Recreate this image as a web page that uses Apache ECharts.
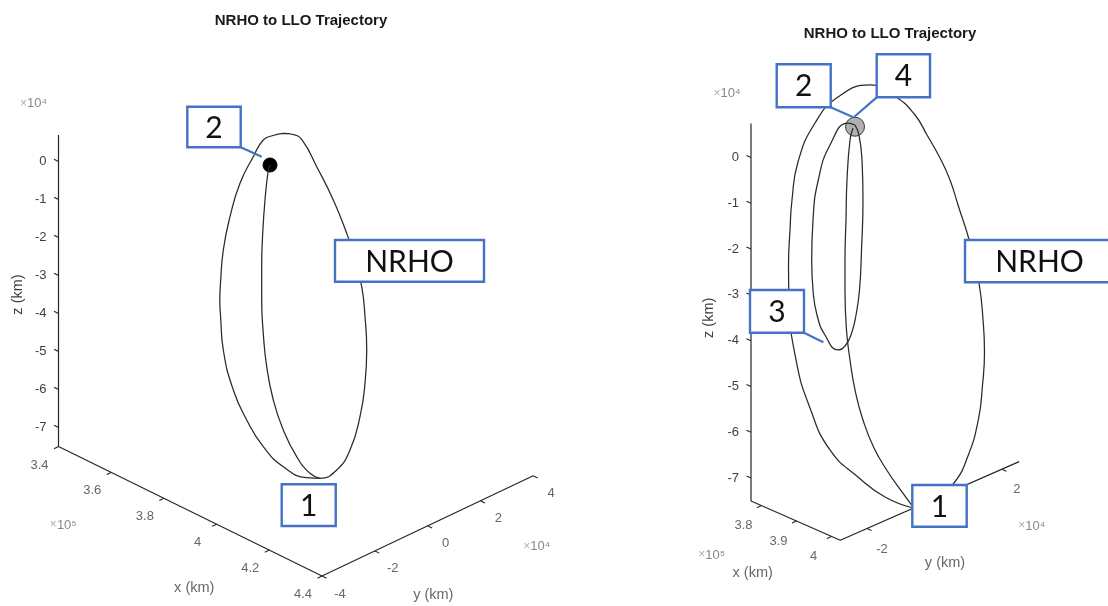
<!DOCTYPE html>
<html><head><meta charset="utf-8">
<script src="https://cdn.jsdelivr.net/npm/echarts@6/dist/echarts.min.js"></script>
<style>html,body{margin:0;padding:0;background:#fff}#c{width:1108px;height:606px}</style>
</head><body><div id="c"></div>
<script>
// ================= DATA (lengths in units of 1e4 km) =================
const chartTitle = 'NRHO to LLO Trajectory';
const zTicks = [-7, -6, -5, -4, -3, -2, -1, 0];

// left view: axis limits and ticks
const leftXRange = [34, 44];
const leftYRange = [-4, 4];
const leftZRange = [-7.5, 0.7];
const leftXTicks = [34, 36, 38, 40, 42, 44];
const leftXTickLabels = ['3.4', '3.6', '3.8', '4', '4.2', '4.4'];
const leftYTicks = [-4, -2, 0, 2, 4];
const leftYTickLabels = ['-4', '-2', '0', '2', '4'];

// right view
const rightXRange = [37.7, 40.25];
const rightYRange = [-2.79, 2.51];
const rightZRange = [-7.5, 0.74];
const rightXTicks = [38, 39, 40];
const rightXTickLabels = ['3.8', '3.9', '4'];
const rightYTicks = [-2, 0, 2];
const rightYTickLabels = ['-2', '0', '2'];

// trajectories, projected on the view plane [horizontal, vertical] (1e4 km)
const leftNrho = [[5.916,0.742],[5.645,0.684],[5.389,0.566],[5.126,0.126],[4.776,-0.574],[4.513,-1.453],[4.337,-2.329],[4.263,-3.205],[4.245,-3.645],[4.266,-4.084],[4.337,-4.961],[4.6,-6.013],[4.953,-6.803],[5.389,-7.505],[5.916,-8.032],[6.532,-8.321],[6.882,-8.337],[7.321,-8.118],[7.671,-7.592],[7.934,-6.716],[8.066,-5.837],[8.111,-4.961],[8.066,-4.084],[7.979,-3.295],[7.758,-2.416],[7.584,-1.889],[7.232,-1.013],[6.795,-0.137],[6.408,0.566],[6.171,0.711],[5.916,0.742]];
const leftTransfer = [[5.566,-0.092],[5.521,-0.224],[5.434,-1.013],[5.374,-1.889],[5.347,-2.768],[5.347,-3.645],[5.389,-4.521],[5.479,-5.4],[5.653,-6.276],[5.916,-7.066],[6.268,-7.768],[6.618,-8.205],[6.882,-8.337]];
const leftPoint1 = [6.882, -8.337];
const leftPoint2 = [5.566, -0.092];
const leftNrhoTag = [7.758, -2.416];

const rightNrho = [[3.537,-7.653],[2.926,-7.413],[2.336,-6.976],[1.725,-6.386],[1.288,-5.469],[0.983,-4.421],[0.83,-3.111],[0.819,-2.347],[0.852,-1.583],[0.895,-0.928],[1.026,-0.098],[1.397,0.753],[1.9,1.321],[2.598,1.583],[3.166,1.321],[3.581,0.928],[3.843,0.491],[4.127,-0.011],[4.345,-0.491],[4.52,-1.037],[4.782,-1.867],[4.978,-2.74],[5.066,-3.548],[5.098,-4.247],[5.055,-4.967],[4.963,-5.731],[4.731,-6.533],[4.432,-7.107],[4.017,-7.478],[3.537,-7.653]];
const rightTransfer = [[2.227,0.644],[2.162,0.382],[2.096,-0.491],[2.074,-1.365],[2.052,-2.238],[2.052,-2.893],[2.085,-3.766],[2.162,-4.421],[2.271,-5.076],[2.445,-5.731],[2.686,-6.343],[2.991,-6.867],[3.297,-7.303],[3.537,-7.631]];
const rightLoop = [[2.271,0.71],[2.118,0.753],[1.725,0.273],[1.469,-0.491],[1.354,-1.365],[1.325,-2.238],[1.354,-2.893],[1.441,-3.439],[1.616,-3.876],[1.906,-4.203],[2.052,-4.116],[2.183,-3.876],[2.293,-3.439],[2.369,-2.893],[2.413,-2.02],[2.445,-0.928],[2.424,-0.055],[2.358,0.491],[2.271,0.71]];
const rightPoint1 = [3.537, -7.653];
const rightPoint24 = [2.271, 0.672];
const rightPoint3 = [1.906, -4.203];
const rightNrhoTag = [4.782, -1.867];

// ================= LAYOUT / STYLE =================
const FONT = '"Liberation Sans", Helvetica, Arial, sans-serif';
const BOXFONT = 'Lato, "Open Sans", sans-serif';
const AXC = '#262626', TXC = '#404040', CURVE = '#2a2a2a', BLUE = '#4472C4';

const panels = [
  { box:{x:leftXRange, y:leftYRange, z:leftZRange},
    view:{ex:[26.35,12.95], ey:[26.4,-12.54], ez:38},
    grid:{left:58.5, top:123.5, width:494, height:342}, hMax:13,
    xTicks:leftXTicks, xLabels:leftXTickLabels, yTicks:leftYTicks, yLabels:leftYTickLabels,
    xLabOff:[-19,18.5], yLabOff:[18,18],
    zExpOff:[-25,-31.6], xExpOff:[4.8,78.5], yExpOff:[3.5,71], xNameOff:[4,77], yNameOff:[5.7,69.2],
    nameGap:33,
    curves:[leftNrho, leftTransfer],
    dots:[{at:leftPoint2, size:14, color:'#000', border:'#000'}],
    notes:[
      {text:'2', at:leftPoint2, off:[-56,-38], w:53.4, h:40.6, lead:[[-29.3,-17.7],[-8.3,-8.3]]},
      {text:'NRHO', at:leftNrhoTag, off:[56.2,7.55], w:149, h:41.7},
      {text:'1', at:leftPoint1, off:[-11.3,26.85], w:54, h:41.7}
    ]},
  { box:{x:rightXRange, y:rightYRange, z:rightZRange},
    view:{ex:[35,15.4], ey:[33.75,-14.83], ez:45.8},
    grid:{left:751, top:111.7, width:320.6, height:412.2}, hMax:7,
    xTicks:rightXTicks, xLabels:rightXTickLabels, yTicks:rightYTicks, yLabels:rightYTickLabels,
    xLabOff:[-18,20], yLabOff:[15,20.5],
    zExpOff:[-24,-30.4], xExpOff:[-39.3,54], yExpOff:[12.6,64.3], xNameOff:[-42.9,52.7], yNameOff:[15.3,62.3],
    nameGap:35,
    curves:[rightNrho, rightTransfer, rightLoop],
    dots:[{at:rightPoint24, size:19, color:'#b0b0b0', border:'#3a3a3a'}],
    notes:[
      {text:'2', at:rightPoint24, off:[-51.3,-40.9], w:54, h:43, lead:[[-24.3,-19.4],[-1.7,-9.4]]},
      {text:'4', at:rightPoint24, off:[48.35,-50.9], w:53.3, h:43, lead:[[21.7,-29.4],[-0.7,-10]]},
      {text:'3', at:rightPoint3, off:[-61.3,-38.65], w:54, h:42.7, lead:[[-34.3,-17.3],[-15,-7.7]]},
      {text:'NRHO', at:rightNrhoTag, off:[69.5,18.15], w:149, h:42.3},
      {text:'1', at:rightPoint1, off:[26.5,-2.15], w:54.4, h:41.7}
    ]}
];

function proj(p, x, y, z) {
  const b = p.box, v = p.view;
  const dx = x - b.x[0], dy = y - b.y[0];
  return [(v.ex[0]*dx + v.ey[0]*dy)/v.ez, z - (v.ex[1]*dx + v.ey[1]*dy)/v.ez];
}
function shiftPx(p, pt, vec) { return [pt[0] + vec[0]/p.view.ez, pt[1] - vec[1]/p.view.ez]; }
function unit(vec, len) { const n = Math.hypot(vec[0], vec[1]); return [vec[0]/n*len, vec[1]/n*len]; }

const grids = [], xAxes = [], yAxes = [], series = [];
const TICK = 5;

panels.forEach((p, i) => {
  const b = p.box;
  grids.push(Object.assign({containLabel:false}, p.grid));
  xAxes.push({gridIndex:i, type:'value', min:0, max:p.hMax, show:false});
  yAxes.push({gridIndex:i, type:'value', min:-8, max:1, interval:1,
    axisLine:{show:false}, axisTick:{show:false}, splitLine:{show:false},
    axisLabel:{margin:12, fontSize:13, color:TXC, fontFamily:FONT,
      formatter:(val) => (zTicks.indexOf(val) >= 0 ? String(val) : '')},
    name:'z (km)', nameLocation:'middle', nameRotate:90, nameGap:p.nameGap,
    nameTextStyle:{fontSize:14.5, color:TXC, fontFamily:FONT}});
  const ax = {xAxisIndex:i, yAxisIndex:i};

  // axis lines: z top -> origin corner -> x end -> y end
  const O = proj(p, b.x[0], b.y[0], b.z[0]);
  const zTop = proj(p, b.x[0], b.y[0], b.z[1]);
  const xEnd = proj(p, b.x[1], b.y[0], b.z[0]);
  const yEnd = proj(p, b.x[1], b.y[1], b.z[0]);
  series.push(Object.assign({type:'line', data:[zTop, O, xEnd, yEnd], showSymbol:false, clip:false,
    silent:true, z:2, lineStyle:{color:AXC, width:1.2}}, ax));

  // ticks (outward)
  const tz = unit([-p.view.ex[0], -p.view.ex[1]], TICK);
  const tx = unit([-p.view.ey[0], -p.view.ey[1]], TICK);
  const ty = unit([p.view.ex[0], p.view.ex[1]], TICK);
  const segs = [];
  zTicks.forEach(t => { const a = proj(p, b.x[0], b.y[0], t); segs.push({coords:[a, shiftPx(p, a, tz)]}); });
  p.xTicks.forEach(t => { const a = proj(p, t, b.y[0], b.z[0]); segs.push({coords:[a, shiftPx(p, a, tx)]}); });
  p.yTicks.forEach(t => { const a = proj(p, b.x[1], t, b.z[0]); segs.push({coords:[a, shiftPx(p, a, ty)]}); });
  series.push(Object.assign({type:'lines', coordinateSystem:'cartesian2d', data:segs, silent:true, clip:false, z:2,
    lineStyle:{color:AXC, width:1.1, opacity:1}}, ax));

  // texts: tick labels, exponents, axis names
  const texts = [];
  const addText = (pt, text, off, style) => texts.push({value:pt,
    label:Object.assign({show:true, formatter:text, position:'inside', offset:off, align:'center', verticalAlign:'middle',
      fontSize:13, color:TXC, fontFamily:FONT}, style || {})});
  p.xTicks.forEach((t, k) => addText(proj(p, t, b.y[0], b.z[0]), p.xLabels[k], p.xLabOff));
  p.yTicks.forEach((t, k) => addText(proj(p, b.x[1], t, b.z[0]), p.yLabels[k], p.yLabOff));
  const expRich = {a:{color:'#9a9a9a', fontSize:12, fontFamily:FONT}, b:{color:'#6a6a6a', fontSize:13, fontFamily:FONT}};
  addText(zTop, '{a|×}{b|10⁴}', p.zExpOff, {rich:expRich});
  addText(O, '{a|×}{b|10⁵}', p.xExpOff, {rich:expRich});
  addText(yEnd, '{a|×}{b|10⁴}', p.yExpOff, {rich:expRich});
  addText(proj(p, (b.x[0]+b.x[1])/2, b.y[0], b.z[0]), 'x (km)', p.xNameOff, {fontSize:14.5});
  addText(proj(p, b.x[1], (b.y[0]+b.y[1])/2, b.z[0]), 'y (km)', p.yNameOff, {fontSize:14.5});
  series.push(Object.assign({type:'scatter', data:texts, symbolSize:1, silent:true, z:3, clip:false,
    itemStyle:{color:'rgba(0,0,0,0)'}}, ax));

  // markers under curves
  p.dots.forEach(d => series.push(Object.assign({type:'scatter', data:[d.at], symbolSize:d.size, silent:true, z:3, clip:false,
    itemStyle:{color:d.color, borderColor:d.border, borderWidth:1, opacity:1}}, ax)));

  // trajectories
  p.curves.forEach(c => series.push(Object.assign({type:'line', data:c, smooth:0.5, showSymbol:false, clip:false,
    silent:true, z:4, lineStyle:{color:CURVE, width:1.25}}, ax)));

  // annotation boxes
  const notes = p.notes;
  series.push(Object.assign({type:'custom', data:notes.map(n => n.at), silent:true, z:10, clip:false,
    renderItem:(params, api) => {
      const n = notes[params.dataIndex];
      const c = api.coord([api.value(0), api.value(1)]);
      const cx = c[0] + n.off[0], cy = c[1] + n.off[1];
      const ch = [];
      if (n.lead) ch.push({type:'line', shape:{x1:c[0]+n.lead[0][0], y1:c[1]+n.lead[0][1], x2:c[0]+n.lead[1][0], y2:c[1]+n.lead[1][1]},
        style:{stroke:BLUE, lineWidth:2.2}});
      ch.push({type:'rect', shape:{x:cx-n.w/2, y:cy-n.h/2, width:n.w, height:n.h},
        style:{fill:'#fff', stroke:BLUE, lineWidth:2.4}});
      ch.push({type:'text', style:{text:n.text, x:cx, y:cy+1, align:'center', verticalAlign:'middle',
        font:'30px ' + BOXFONT, fill:'#111'}});
      return {type:'group', children:ch};
    }}, ax));
});

const chart = echarts.init(document.getElementById('c'));
chart.setOption({
  animation:false,
  backgroundColor:'#fff',
  title:[
    {text:chartTitle, left:296, top:8, textAlign:'center', textStyle:{fontSize:15, fontWeight:'bold', color:'#1a1a1a', fontFamily:FONT}},
    {text:chartTitle, left:885, top:21, textAlign:'center', textStyle:{fontSize:15, fontWeight:'bold', color:'#1a1a1a', fontFamily:FONT}}
  ],
  grid:grids, xAxis:xAxes, yAxis:yAxes, series:series
});
</script>
</body></html>
